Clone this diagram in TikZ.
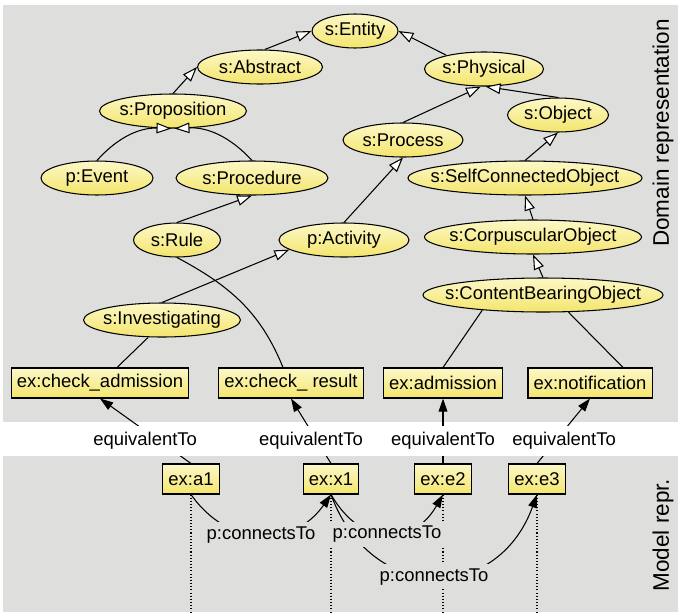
\documentclass[tikz,border=0pt]{standalone}
\usepackage{fontspec}
\setmainfont{Liberation Sans}
\usetikzlibrary{shapes.geometric, arrows.meta}

\newcommand{\lblfont}{\fontsize{10.5}{12}\selectfont}
\newcommand{\sidefont}{\fontsize{12.8}{15}\selectfont}

\begin{document}
\begin{tikzpicture}[x=0.02cm, y=-0.02cm,
    cls/.style={draw, shape=ellipse, line width=0.6pt, inner sep=0pt, minimum height=0.68cm,
        top color=yelLight, bottom color=yelDark, font=\lblfont},
    inst/.style={draw, shape=rectangle, line width=0.6pt, inner xsep=3.2pt, inner ysep=0pt, minimum height=0.6cm,
        top color=yelLight, bottom color=yelDark, font=\lblfont},
    isa/.style={draw, line width=0.6pt, -{Triangle[length=8.5pt, width=6pt, fill=white]}},
    link/.style={draw, line width=0.6pt},
    rel/.style={draw, line width=0.6pt, -{Triangle[length=7.5pt, width=5pt]}},
    eqlabel/.style={fill=white, inner sep=3.5pt, font=\lblfont},
    cnlabel/.style={fill=bgGray, inner sep=2.5pt, font=\lblfont},
    lifeline/.style={draw, line width=0.6pt, dash pattern=on 0.6pt off 1.2pt}]
    \definecolor{bgGray}{HTML}{DEDEDC}
    \definecolor{yelLight}{HTML}{FCF8C8}
    \definecolor{yelDark}{HTML}{F4E56C}

    \useasboundingbox (0,0) rectangle (678,612);
    \path[fill=bgGray] (3,5) rectangle (678,422);
    \path[fill=bgGray] (3,456) rectangle (678,612);

    \node[rotate=90, font=\sidefont] (domain) at (663,133) {Domain representation};
    \node[rotate=90, font=\sidefont] (model) at (663,535) {Model repr.};

    \node[cls, minimum width=1.72cm] (entity) at (355,31) {\makebox[0pt]{s:Entity}};
    \node[cls, minimum width=2.5cm] (abstract) at (260,67) {\makebox[0pt]{s:Abstract}};
    \node[cls, minimum width=2.38cm] (physical) at (484,69) {\makebox[0pt]{s:Physical}};
    \node[cls, minimum width=2.94cm] (prop) at (173,111) {\makebox[0pt]{s:Proposition}};
    \node[cls, minimum width=2.24cm] (event) at (97,178) {\makebox[0pt]{p:Event}};
    \node[cls, minimum width=3.04cm] (procedure) at (252,178) {\makebox[0pt]{s:Procedure}};
    \node[cls, minimum width=2.4cm] (process) at (403,140) {\makebox[0pt]{s:Process}};
    \node[cls, minimum width=2.02cm] (object) at (558,115) {\makebox[0pt]{s:Object}};
    \node[cls, minimum width=4.68cm] (selfconn) at (525,178) {\makebox[0pt]{s:SelfConnectedObject}};
    \node[cls, minimum width=1.74cm] (rule) at (177,240) {\makebox[0pt]{s:Rule}};
    \node[cls, minimum width=2.6cm] (activity) at (344,240) {\makebox[0pt]{p:Activity}};
    \node[cls, minimum width=4.34cm] (corpus) at (533,237) {\makebox[0pt]{s:CorpuscularObject}};
    \node[cls, minimum width=4.8cm] (content) at (543,295) {\makebox[0pt]{s:ContentBearingObject}};
    \node[cls, minimum width=3.14cm] (invest) at (162,320) {\makebox[0pt]{s:Investigating}};

    \node[inst] (chkadm) at (100,383) {ex:check\_admission};
    \node[inst] (chkres) at (291,383) {ex:check\_ result};
    \node[inst] (adm) at (443,383) {ex:admission};
    \node[inst] (notif) at (590,383) {ex:notification};

    \node[inst] (a1) at (191,479) {ex:a1};
    \node[inst] (x1) at (331,479) {ex:x1};
    \node[inst] (e2) at (443,479) {ex:e2};
    \node[inst] (e3) at (537,479) {ex:e3};

    \path[isa] (abstract.75) -- (entity.west);
    \path[isa] (physical.160) -- (entity.east);
    \path[isa] (prop.north) -- (abstract.west);
    \path[isa] (event.north) to[bend left=25] (prop.-95);
    \path[isa] (procedure.north) to[bend right=25] (prop.-85);
    \path[isa] (rule.north) -- (procedure.south);
    \path[isa] (process.north) -- (physical.-100);
    \path[isa] (object.north) -- (physical.-85);
    \path[isa] (activity.north) -- (process.south);
    \path[isa] (selfconn.north) -- (object.south);
    \path[isa] (corpus.north) -- (selfconn.south);
    \path[isa] (content.north) -- (corpus.south);
    \path[isa] (invest.north) -- (activity.190);

    \path[link] (rule.south) to[out=-28, in=112] ([xshift=-0.16cm]chkres.north);
    \path[link] ([xshift=-0.28cm]invest.south) -- ([xshift=0.34cm]chkadm.north);
    \path[link] (content.-166) -- (adm.north);
    \path[link] (content.-34) -- ([xshift=0.66cm]notif.north);

    \path[rel] (a1.north) -- node[eqlabel, pos=0.35, xshift=-0.28cm] {equivalentTo} (chkadm.south);
    \path[rel] (x1.north) -- node[eqlabel, pos=0.35, xshift=-0.12cm] {equivalentTo} (chkres.south);
    \path[rel] (e2.north) -- node[eqlabel, pos=0.35] {equivalentTo} (adm.south);
    \path[rel] (e3.north) -- node[eqlabel, pos=0.35, xshift=0.17cm] {equivalentTo} (notif.south);

    \coordinate (bottom) at (0,612);
    \foreach \n in {a1, x1, e2, e3}
        \path[lifeline] (\n.south) -- (\n.south |- bottom);

    \path[rel] (x1.south) to[out=-70, in=-110, looseness=1.45] node[cnlabel] {p:connectsTo} (e3.south);
    \path[rel] (x1.south) to[out=-60, in=-120, looseness=1.4] node[cnlabel] {p:connectsTo} (e2.south);
    \path[rel] (a1.south) to[out=-55, in=-125, looseness=1.2] node[cnlabel] {p:connectsTo} (x1.south);

\end{tikzpicture}
\end{document}
